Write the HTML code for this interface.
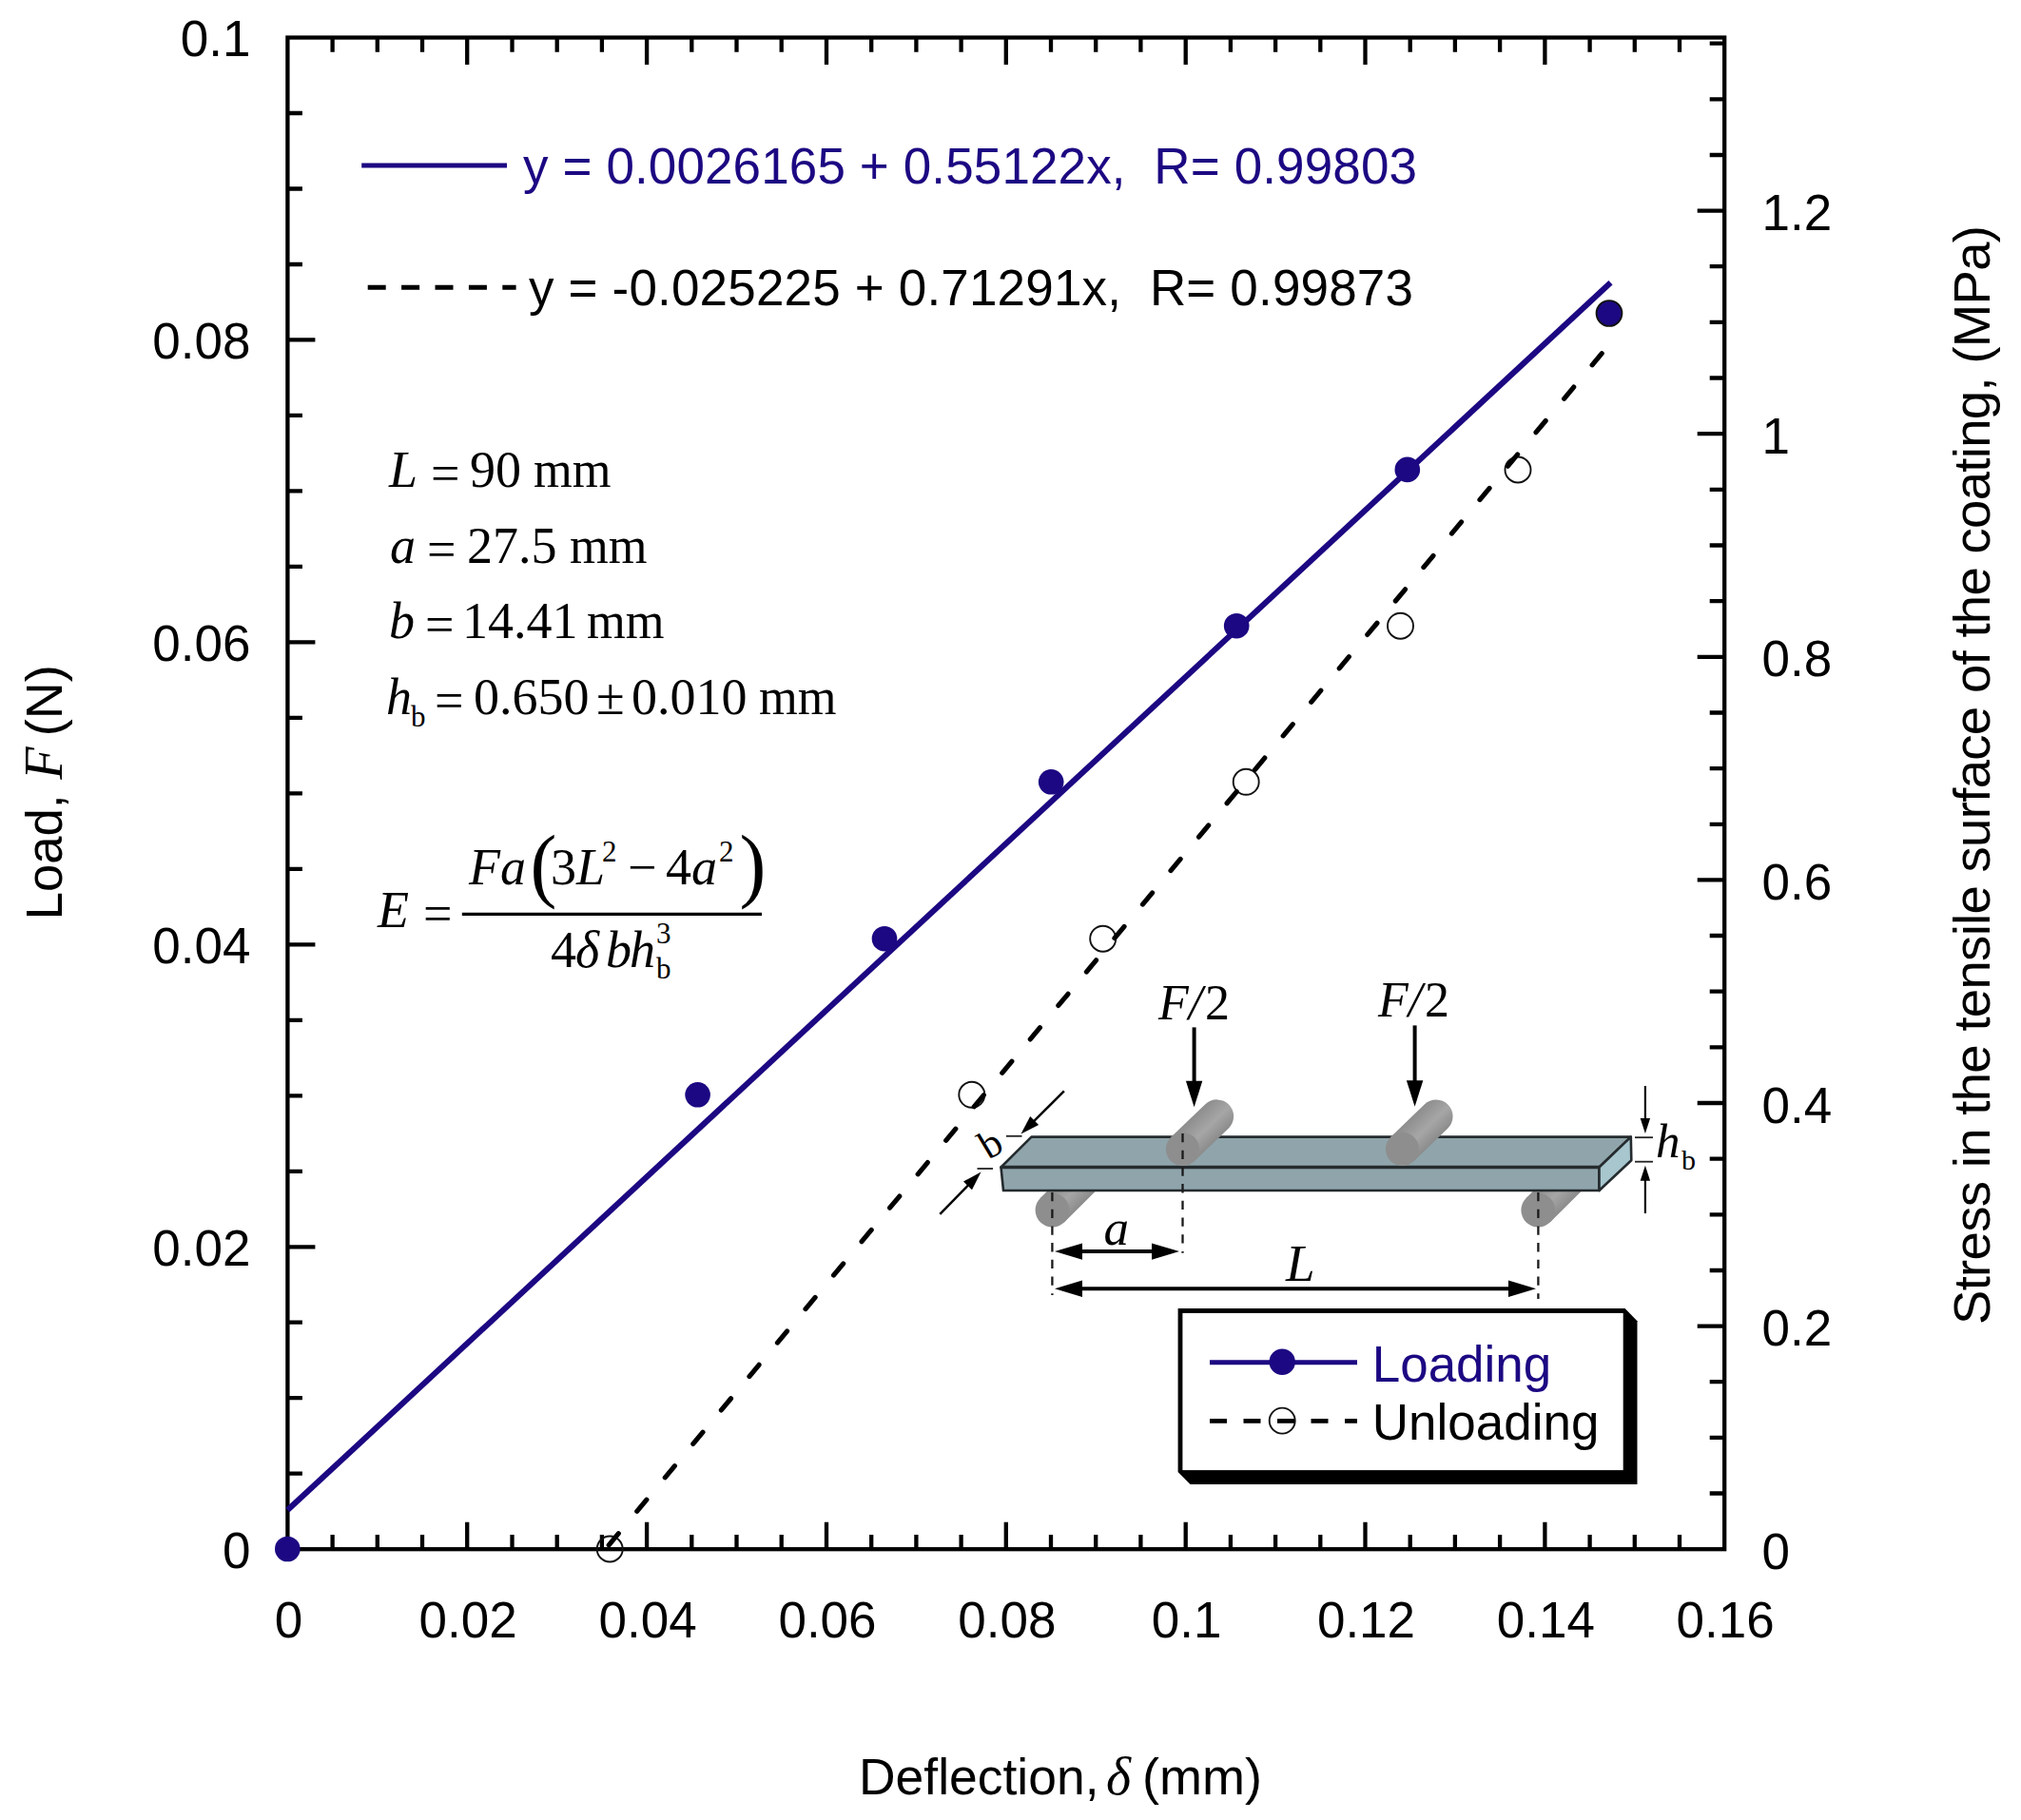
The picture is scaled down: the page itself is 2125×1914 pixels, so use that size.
<!DOCTYPE html>
<html lang="en"><head><meta charset="utf-8"><title>Load vs deflection</title>
<style>html,body{margin:0;padding:0;background:#fff}svg{display:block}</style></head>
<body>
<svg width="2125" height="1914" viewBox="0 0 2125 1914">
<rect width="2125" height="1914" fill="#fff"/>
<g stroke="#000" stroke-width="4.3" fill="none">
<rect x="302.4" y="39.5" width="1510.8" height="1589.7"/>
<path d="M349.6 39.5v15.3M349.6 1629.2v-15.3M396.8 39.5v15.3M396.8 1629.2v-15.3M444.0 39.5v15.3M444.0 1629.2v-15.3M491.2 39.5v28.5M491.2 1629.2v-28.5M538.5 39.5v15.3M538.5 1629.2v-15.3M585.7 39.5v15.3M585.7 1629.2v-15.3M632.9 39.5v15.3M632.9 1629.2v-15.3M680.1 39.5v28.5M680.1 1629.2v-28.5M727.3 39.5v15.3M727.3 1629.2v-15.3M774.5 39.5v15.3M774.5 1629.2v-15.3M821.7 39.5v15.3M821.7 1629.2v-15.3M869.0 39.5v28.5M869.0 1629.2v-28.5M916.2 39.5v15.3M916.2 1629.2v-15.3M963.4 39.5v15.3M963.4 1629.2v-15.3M1010.6 39.5v15.3M1010.6 1629.2v-15.3M1057.8 39.5v28.5M1057.8 1629.2v-28.5M1105.0 39.5v15.3M1105.0 1629.2v-15.3M1152.2 39.5v15.3M1152.2 1629.2v-15.3M1199.4 39.5v15.3M1199.4 1629.2v-15.3M1246.7 39.5v28.5M1246.7 1629.2v-28.5M1293.9 39.5v15.3M1293.9 1629.2v-15.3M1341.1 39.5v15.3M1341.1 1629.2v-15.3M1388.3 39.5v15.3M1388.3 1629.2v-15.3M1435.5 39.5v28.5M1435.5 1629.2v-28.5M1482.7 39.5v15.3M1482.7 1629.2v-15.3M1529.9 39.5v15.3M1529.9 1629.2v-15.3M1577.1 39.5v15.3M1577.1 1629.2v-15.3M1624.4 39.5v28.5M1624.4 1629.2v-28.5M1671.6 39.5v15.3M1671.6 1629.2v-15.3M1718.8 39.5v15.3M1718.8 1629.2v-15.3M1766.0 39.5v15.3M1766.0 1629.2v-15.3M302.4 1549.7h15.5M302.4 1470.2h15.5M302.4 1390.7h15.5M302.4 1311.3h29M302.4 1231.8h15.5M302.4 1152.3h15.5M302.4 1072.8h15.5M302.4 993.3h29M302.4 913.8h15.5M302.4 834.3h15.5M302.4 754.9h15.5M302.4 675.4h29M302.4 595.9h15.5M302.4 516.4h15.5M302.4 436.9h15.5M302.4 357.4h29M302.4 278.0h15.5M302.4 198.5h15.5M302.4 119.0h15.5M1813.2 1570.5h-15.5M1813.2 1511.9h-15.5M1813.2 1453.2h-15.5M1813.2 1394.6h-28.5M1813.2 1336.0h-15.5M1813.2 1277.3h-15.5M1813.2 1218.7h-15.5M1813.2 1160.0h-28.5M1813.2 1101.3h-15.5M1813.2 1042.7h-15.5M1813.2 984.0h-15.5M1813.2 925.4h-28.5M1813.2 866.8h-15.5M1813.2 808.1h-15.5M1813.2 749.5h-15.5M1813.2 690.8h-28.5M1813.2 632.1h-15.5M1813.2 573.5h-15.5M1813.2 514.8h-15.5M1813.2 456.2h-28.5M1813.2 397.5h-15.5M1813.2 338.9h-15.5M1813.2 280.2h-15.5M1813.2 221.6h-28.5M1813.2 163.0h-15.5M1813.2 104.3h-15.5M1813.2 45.6h-15.5"/>
</g>
<g fill="none" stroke="#111" stroke-width="1.9">
<circle cx="641.2" cy="1629.0" r="13.5"/>
<circle cx="1021.8" cy="1151.3" r="13.5"/>
<circle cx="1159.7" cy="987.2" r="13.5"/>
<circle cx="1310.2" cy="822.3" r="13.5"/>
<circle cx="1472.5" cy="658.2" r="13.5"/>
<circle cx="1596.0" cy="494.0" r="13.5"/>
</g>
<line x1="302.4" y1="1588.1" x2="1693.5" y2="297.2" stroke="#1c0882" stroke-width="6.1"/>
<line x1="640.2" y1="1624.8" x2="1684.7" y2="371.1" stroke="#000" stroke-width="5.1" stroke-linecap="round" stroke-dasharray="15.9 30.25"/>
<g fill="#1c0882">
<circle cx="302.3" cy="1629.0" r="13.3"/>
<circle cx="733.6" cy="1151.3" r="13.3"/>
<circle cx="930.0" cy="987.2" r="13.3"/>
<circle cx="1105.2" cy="822.3" r="13.3"/>
<circle cx="1300.2" cy="658.2" r="13.3"/>
<circle cx="1479.8" cy="493.9" r="13.3"/>
<circle cx="1692.0" cy="329.5" r="13.3"/>
</g>
<circle cx="1692.0" cy="329.5" r="13.4" fill="none" stroke="#111" stroke-width="1.9"/>
<g font-family='"Liberation Sans", Arial, sans-serif' font-size="53" fill="#000">
<g text-anchor="middle">
<text x="303.4" y="1722">0</text>
<text x="492.2" y="1722">0.02</text>
<text x="681.1" y="1722">0.04</text>
<text x="870.0" y="1722">0.06</text>
<text x="1058.8" y="1722">0.08</text>
<text x="1247.7" y="1722">0.1</text>
<text x="1436.5" y="1722">0.12</text>
<text x="1625.4" y="1722">0.14</text>
<text x="1814.2" y="1722">0.16</text>
</g>
<g text-anchor="end">
<text x="263.5" y="1648.7">0</text>
<text x="263.5" y="1330.8">0.02</text>
<text x="263.5" y="1012.8">0.04</text>
<text x="263.5" y="694.9">0.06</text>
<text x="263.5" y="376.9">0.08</text>
<text x="263.5" y="59.0">0.1</text>
</g>
<text x="1852.5" y="1649.7">0</text>
<text x="1852.5" y="1415.1">0.2</text>
<text x="1852.5" y="1180.5">0.4</text>
<text x="1852.5" y="945.9">0.6</text>
<text x="1852.5" y="711.3">0.8</text>
<text x="1852.5" y="476.7">1</text>
<text x="1852.5" y="242.1">1.2</text>
</g>
<text x="903" y="1886.5" font-family='"Liberation Sans", Arial, sans-serif' font-size="54" textLength="252.5" lengthAdjust="spacingAndGlyphs">Deflection,</text>
<text x="1163" y="1886.5" font-family='"Liberation Serif", "Times New Roman", serif' font-style="italic" font-size="56">δ</text>
<text x="1201" y="1886.5" font-family='"Liberation Sans", Arial, sans-serif' font-size="54">(mm)</text>
<g transform="translate(64.8 967.3) rotate(-90)" font-size="54" fill="#000">
<text x="0" y="0" font-family='"Liberation Sans", Arial, sans-serif' textLength="131.8" lengthAdjust="spacingAndGlyphs">Load,</text>
<text x="147.5" y="0" font-family='"Liberation Serif", "Times New Roman", serif' font-style="italic" font-size="56">F</text>
<text x="193" y="0" font-family='"Liberation Sans", Arial, sans-serif'>(N)</text>
</g>
<text transform="translate(2092 1393) rotate(-90)" font-family='"Liberation Sans", Arial, sans-serif' font-size="54.5" textLength="1156" lengthAdjust="spacing">Stress in the tensile surface of the coating,  (MPa)</text>
<line x1="380.2" y1="174.1" x2="533" y2="174.1" stroke="#1c0882" stroke-width="5"/>
<text x="550" y="193.2" font-family='"Liberation Sans", Arial, sans-serif' font-size="53" fill="#1c0882" textLength="940" lengthAdjust="spacing" xml:space="preserve" style="white-space:pre">y = 0.0026165 + 0.55122x,  R= 0.99803</text>
<line x1="386.7" y1="302.2" x2="542.6" y2="302.2" stroke="#000" stroke-width="5" stroke-dasharray="19 16.4"/>
<text x="556" y="320.8" font-family='"Liberation Sans", Arial, sans-serif' font-size="53" fill="#000" textLength="930" lengthAdjust="spacing" xml:space="preserve" style="white-space:pre">y = -0.025225 + 0.71291x,  R= 0.99873</text>
<g font-family='"Liberation Serif", "Times New Roman", serif' font-size="54" fill="#000">
<text x="409" y="511.6" font-style="italic">L</text>
<text x="453" y="515.6">=</text>
<text x="494" y="511.6">90</text>
<text x="561" y="511.6" textLength="81.5" lengthAdjust="spacingAndGlyphs">mm</text>
<text x="410" y="591.8" font-style="italic">a</text>
<text x="449" y="595.8">=</text>
<text x="491" y="591.8">27.5</text>
<text x="599" y="591.8" textLength="81.5" lengthAdjust="spacingAndGlyphs">mm</text>
<text x="409" y="671.1" font-style="italic">b</text>
<text x="447" y="675.1">=</text>
<text x="486" y="671.1">14.41</text>
<text x="617" y="671.1" textLength="81.5" lengthAdjust="spacingAndGlyphs">mm</text>
<text x="406" y="750.7" font-style="italic">h</text>
<text x="432" y="763.5" font-size="31">b</text>
<text x="457" y="754.7">=</text>
<text x="498" y="750.7">0.650</text>
<text x="627" y="750.7">±</text>
<text x="664" y="750.7">0.010</text>
<text x="798" y="750.7" textLength="81.5" lengthAdjust="spacingAndGlyphs">mm</text>
<text x="397" y="974.5" font-style="italic">E</text>
<text x="445" y="978.5">=</text>
<line x1="485.8" y1="961.3" x2="801" y2="961.3" stroke="#000" stroke-width="3.2"/>
<text x="493" y="930.1" font-style="italic">Fa</text>
<text transform="translate(557.5 937.5) scale(1.55 1.62)" x="0" y="0">(</text>
<text x="579" y="930.1">3</text>
<text x="606" y="930.1" font-style="italic">L</text>
<text x="633" y="906.4" font-size="31">2</text>
<text x="660" y="930.1">−</text>
<text x="700" y="930.1">4</text>
<text x="727" y="930.1" font-style="italic">a</text>
<text x="756" y="906.4" font-size="31">2</text>
<text transform="translate(777.5 937.5) scale(1.55 1.62)" x="0" y="0">)</text>
<text x="579" y="1016.6">4</text>
<text x="605" y="1016.6" font-style="italic">δ</text>
<text x="637" y="1016.6" font-style="italic">b</text>
<text x="662" y="1016.6" font-style="italic">h</text>
<text x="690" y="991.6" font-size="31">3</text>
<text x="690" y="1029.2" font-size="31">b</text>
</g>
<defs>
<linearGradient id="cyl" gradientUnits="userSpaceOnUse" x1="-18.5" y1="0" x2="18.5" y2="0"><stop offset="0" stop-color="#8a8a8a"/><stop offset="0.45" stop-color="#a6a6a6"/><stop offset="1" stop-color="#8c8c8c"/></linearGradient>
</defs>
<g transform="translate(1106.5 1272.7) rotate(-135.00)"><path d="M-17.9 0 L-17.9 52.3 A17.9 17.9 0 0 0 17.9 52.3 L17.9 0 Z" fill="url(#cyl)"/><circle cx="0" cy="0" r="17.9" fill="#8e8e8e"/></g>
<g transform="translate(1617.3 1272.7) rotate(-135.00)"><path d="M-17.9 0 L-17.9 52.3 A17.9 17.9 0 0 0 17.9 52.3 L17.9 0 Z" fill="url(#cyl)"/><circle cx="0" cy="0" r="17.9" fill="#8e8e8e"/></g>
<g stroke="#252b2e" stroke-width="2.6" stroke-linejoin="round">
<polygon points="1084.5,1195.6 1714.8,1195.6 1681.5,1227.5 1052.5,1227.5" fill="#8fa5ab"/>
<polygon points="1052.5,1227.5 1681.5,1227.5 1681.5,1252 1055,1252" fill="#8fa5ab"/>
<polygon points="1681.5,1227.5 1714.8,1195.6 1715.3,1220.3 1681.5,1252" fill="#a7c6ce"/>
</g>
<line x1="1052.5" y1="1227.5" x2="1681.5" y2="1227.5" stroke="#252b2e" stroke-width="3.6"/>
<g transform="translate(1243.5 1208.5) rotate(-133.78)"><path d="M-17.6 0 L-17.6 49.9 A17.6 17.6 0 0 0 17.6 49.9 L17.6 0 Z" fill="url(#cyl)"/><circle cx="0" cy="0" r="17.6" fill="#8e8e8e"/></g>
<g transform="translate(1474.5 1208.4) rotate(-134.10)"><path d="M-17.6 0 L-17.6 49.4 A17.6 17.6 0 0 0 17.6 49.4 L17.6 0 Z" fill="url(#cyl)"/><circle cx="0" cy="0" r="17.6" fill="#8e8e8e"/></g>
<g stroke="#1a1a1a" stroke-width="2.3" stroke-dasharray="9.3 8.4" fill="none">
<line x1="1106.4" y1="1254" x2="1106.4" y2="1362"/>
<line x1="1243.5" y1="1192" x2="1243.5" y2="1317.8"/>
<line x1="1617.4" y1="1254" x2="1617.4" y2="1366"/>
</g>
<line x1="1136" y1="1316.1" x2="1213" y2="1316.1" stroke="#000" stroke-width="4"/><polygon points="1109,1316.1 1138,1307.3999999999999 1138,1324.8" fill="#000"/><polygon points="1240,1316.1 1211,1307.3999999999999 1211,1324.8" fill="#000"/>
<line x1="1136" y1="1355.3" x2="1588" y2="1355.3" stroke="#000" stroke-width="4"/><polygon points="1109,1355.3 1138,1346.6 1138,1364.0" fill="#000"/><polygon points="1615,1355.3 1586,1346.6 1586,1364.0" fill="#000"/>
<line x1="1255.6" y1="1080.4" x2="1255.6" y2="1138.8" stroke="#000" stroke-width="4"/><polygon points="1255.6,1164.3 1246.8999999999999,1136.8 1264.3,1136.8" fill="#000"/>
<line x1="1487.6" y1="1078.4" x2="1487.6" y2="1138.3" stroke="#000" stroke-width="4"/><polygon points="1487.6,1163.8 1478.8999999999999,1136.3 1496.3,1136.3" fill="#000"/>
<line x1="1729.9" y1="1142" x2="1729.9" y2="1178" stroke="#000" stroke-width="2.2"/><polygon points="1729.9,1192 1724.7,1176 1735.1000000000001,1176" fill="#000"/>
<line x1="1729.9" y1="1276" x2="1729.9" y2="1239.7" stroke="#000" stroke-width="2.2"/><polygon points="1729.9,1225.7 1724.7,1241.7 1735.1000000000001,1241.7" fill="#000"/>
<g stroke="#222" stroke-width="1.8">
<line x1="1719" y1="1196.2" x2="1738" y2="1196.2"/><line x1="1719" y1="1221.7" x2="1738" y2="1221.7"/>
<line x1="1058" y1="1194.8" x2="1074.5" y2="1194.8"/><line x1="1027.5" y1="1229" x2="1044" y2="1229"/>
</g>
<line x1="1118.9" y1="1147.4" x2="1086.3" y2="1179.8" stroke="#000" stroke-width="2.5"/><polygon points="1073.5,1192.5 1083.2,1173.9 1092.1,1182.9" fill="#000"/>
<line x1="988.3" y1="1276.9" x2="1018.9" y2="1245.5" stroke="#000" stroke-width="2.5"/><polygon points="1031.5,1232.6 1022.0,1251.3 1013.0,1242.5" fill="#000"/>
<g font-family='"Liberation Serif", "Times New Roman", serif' fill="#000">
<text x="1218" y="1072.2" font-size="52" font-style="italic">F/</text><text x="1267" y="1072.2" font-size="52">2</text>
<text x="1449" y="1069" font-size="52" font-style="italic">F/</text><text x="1498" y="1069" font-size="52">2</text>
<text x="1160.5" y="1309" font-size="53" font-style="italic">a</text>
<text x="1352" y="1347" font-size="55" font-style="italic">L</text>
<text x="1741" y="1217" font-size="51" font-style="italic">h</text><text x="1768" y="1230.1" font-size="30">b</text>
<text transform="translate(1048.5 1214.5) rotate(-31)" x="0" y="0" font-size="42" text-anchor="middle">b</text>
</g>
<polygon points="1238.6,1376.1 1708.6,1376.1 1721.5,1389.3 1721.5,1561 1251.5,1561 1238.6,1548" fill="#000"/>
<rect x="1243.4" y="1380.9" width="463.3" height="165.2" fill="#fff"/>
<line x1="1272" y1="1432.8" x2="1427" y2="1432.8" stroke="#1c0882" stroke-width="5"/>
<circle cx="1348.2" cy="1432.3" r="13.7" fill="#1c0882"/>
<text x="1442.7" y="1452.5" font-family='"Liberation Sans", Arial, sans-serif' font-size="53" fill="#1c0882">Loading</text>
<circle cx="1348.2" cy="1494.1" r="13.5" fill="none" stroke="#111" stroke-width="1.9"/>
<line x1="1272" y1="1494.4" x2="1427" y2="1494.4" stroke="#000" stroke-width="4.9" stroke-dasharray="18 17.5"/>
<text x="1442.7" y="1514" font-family='"Liberation Sans", Arial, sans-serif' font-size="53" fill="#000">Unloading</text>
</svg>
</body></html>
